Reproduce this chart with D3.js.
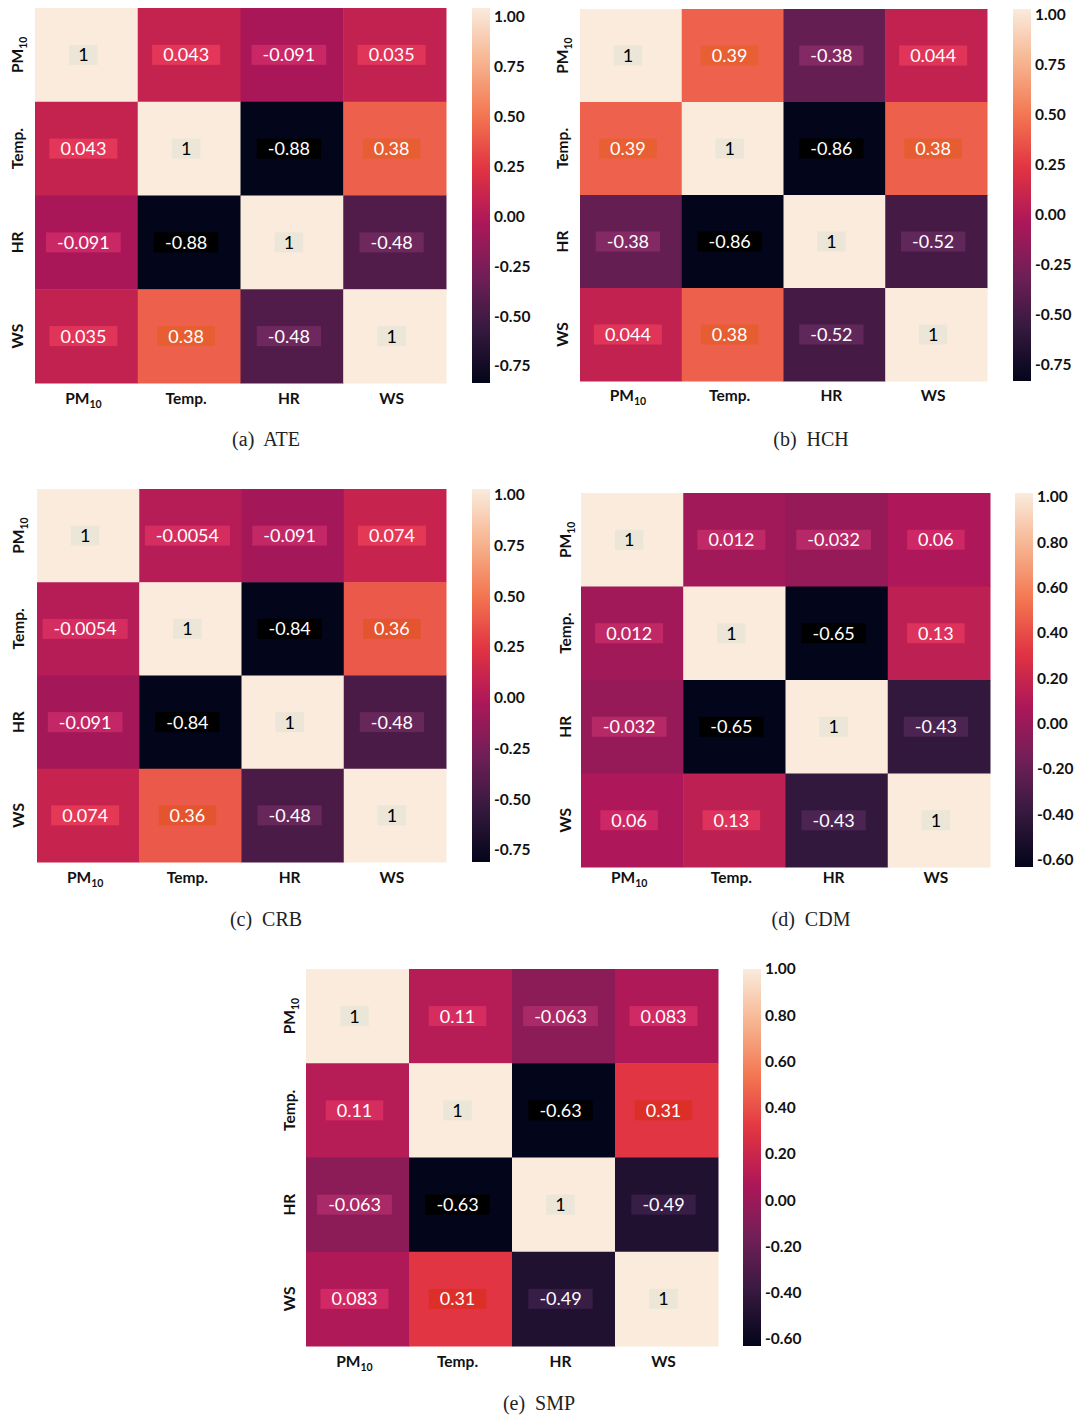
<!DOCTYPE html>
<html>
<head>
<meta charset="utf-8">
<script src="https://cdn.jsdelivr.net/npm/d3@7"></script>
<style>
  html, body { margin: 0; padding: 0; background: #fff; }
  svg { display: block; }
</style>
</head>
<body>
<svg id="fig" width="1077" height="1416"></svg>
<script>
// Variables shown on both axes of every correlation matrix
const variables = ["PM10", "Temp.", "HR", "WS"];

// Pearson correlation matrices, one per station
const ateValues = [
  [1, 0.043, -0.091, 0.035],
  [0.043, 1, -0.88, 0.38],
  [-0.091, -0.88, 1, -0.48],
  [0.035, 0.38, -0.48, 1]
];
const hchValues = [
  [1, 0.39, -0.38, 0.044],
  [0.39, 1, -0.86, 0.38],
  [-0.38, -0.86, 1, -0.52],
  [0.044, 0.38, -0.52, 1]
];
const crbValues = [
  [1, -0.0054, -0.091, 0.074],
  [-0.0054, 1, -0.84, 0.36],
  [-0.091, -0.84, 1, -0.48],
  [0.074, 0.36, -0.48, 1]
];
const cdmValues = [
  [1, 0.012, -0.032, 0.06],
  [0.012, 1, -0.65, 0.13],
  [-0.032, -0.65, 1, -0.43],
  [0.06, 0.13, -0.43, 1]
];
const smpValues = [
  [1, 0.11, -0.063, 0.083],
  [0.11, 1, -0.63, 0.31],
  [-0.063, -0.63, 1, -0.49],
  [0.083, 0.31, -0.49, 1]
];

// Colour bar tick labels
const ticksQuarter = [1.00, 0.75, 0.50, 0.25, 0.00, -0.25, -0.50, -0.75];
const ticksFifth = [1.00, 0.80, 0.60, 0.40, 0.20, 0.00, -0.20, -0.40, -0.60];

// Panel captions
const panelLetters = ["(a)", "(b)", "(c)", "(d)", "(e)"];
const stationNames = ["ATE", "HCH", "CRB", "CDM", "SMP"];

// "rocket" sequential colormap anchor colours
const rocketStops = ["#03051a", "#35193e", "#701f57", "#ad1759", "#e13342", "#f37651", "#f6b48f", "#faebdd"];
const rocket = d3.scaleLinear()
  .domain(d3.range(rocketStops.length).map(i => i / (rocketStops.length - 1)))
  .range(rocketStops)
  .interpolate(d3.interpolateRgb)
  .clamp(true);

// Page layout of each panel: heat map box, colour bar, label offsets
const layout = [
  { x0: 35, x1: 446, y0: 8, y1: 383, cbx: 472, yLab: 18, xLabDy: 16, capY: 439, capX: 266, tickShift: 9 },
  { x0: 580, x1: 987, y0: 9, y1: 381, cbx: 1013, yLab: 563, xLabDy: 15, capY: 439, capX: 811, tickShift: 6 },
  { x0: 37, x1: 446, y0: 489, y1: 862, cbx: 472, yLab: 19, xLabDy: 16, capY: 919, capX: 266, tickShift: 6 },
  { x0: 581, x1: 990, y0: 493, y1: 867, cbx: 1015, yLab: 566, xLabDy: 11, capY: 919, capX: 811, tickShift: 4 },
  { x0: 306, x1: 718, y0: 969, y1: 1346, cbx: 743, yLab: 290, xLabDy: 16, capY: 1403, capX: 539, tickShift: 0 }
];

const matrices = [ateValues, hchValues, crbValues, cdmValues, smpValues];
const tickSets = [ticksQuarter, ticksQuarter, ticksQuarter, ticksFifth, ticksFifth];

const svg = d3.select("#fig");
const defs = svg.append("defs");

const annotFont = "Lato, 'Open Sans', sans-serif";
const tickFont = "Lato, 'Open Sans', sans-serif";
const tickSize = 15.5;
const fmt2 = v => d3.format(".2f")(v).replace("\u2212", "-");

// Highlight box behind each annotation: a more saturated shade of the cell colour
function boxColour(c) {
  const l = d3.lch(c);
  if (l.l > 85) return d3.lch(l.l - 2.5, l.c * 0.8, l.h + 25).formatHex();
  if (l.l < 8) return "#000000";
  const dl = l.l < 50 ? 8 : -2;
  const dh = l.l < 50 ? 4 : 8;
  return d3.lch(l.l + dl, l.c + 6, l.h + dh).formatHex();
}

function textColour(c) {
  const rgb = d3.rgb(c);
  const lin = v => { v /= 255; return v <= 0.03928 ? v / 12.92 : Math.pow((v + 0.055) / 1.055, 2.4); };
  const lum = 0.2126 * lin(rgb.r) + 0.7152 * lin(rgb.g) + 0.0722 * lin(rgb.b);
  return lum > 0.408 ? "#000" : "#fff";
}

function addVarLabel(sel, name, fontSize) {
  if (name === "PM10") {
    sel.append("tspan").text("PM");
    sel.append("tspan").attr("font-size", fontSize * 0.68).attr("dy", fontSize * 0.22).text("10");
  } else {
    sel.text(name);
  }
}

matrices.forEach((values, p) => {
  const L = layout[p];
  const flat = values.flat();
  const vmin = d3.min(flat), vmax = d3.max(flat);
  const colour = v => rocket((v - vmin) / (vmax - vmin));

  const x = d3.scaleBand().domain(variables).range([L.x0, L.x1]);
  const y = d3.scaleBand().domain(variables).range([L.y0, L.y1]);

  const g = svg.append("g").attr("class", "panel");

  const cells = [];
  values.forEach((row, i) => row.forEach((v, j) => cells.push({ r: variables[i], c: variables[j], v })));

  g.selectAll("rect.cell").data(cells).join("rect")
    .attr("class", "cell")
    .attr("x", d => x(d.c))
    .attr("y", d => y(d.r))
    .attr("width", x.bandwidth() + 0.5)
    .attr("height", y.bandwidth() + 0.5)
    .attr("fill", d => colour(d.v));

  // annotations with background boxes
  const ann = g.selectAll("g.ann").data(cells).join("g")
    .attr("class", "ann")
    .attr("transform", d => `translate(${x(d.c) + x.bandwidth() / 2 - 3},${y(d.r) + y.bandwidth() / 2})`);
  ann.append("rect");
  const txt = ann.append("text")
    .attr("text-anchor", "middle")
    .attr("dy", "0.36em")
    .attr("font-family", annotFont)
    .attr("font-size", 18)
    .attr("fill", d => textColour(colour(d.v)))
    .text(d => String(d.v));
  txt.each(function (d) {
    const w = this.getComputedTextLength();
    const pad = d.v === 1 ? 9 : 11;
    d3.select(this.parentNode).select("rect")
      .attr("x", -w / 2 - pad)
      .attr("y", -10)
      .attr("width", w + 2 * pad)
      .attr("height", 20)
      .attr("fill", boxColour(colour(d.v)));
  });

  // x tick labels
  g.selectAll("text.xlab").data(variables).join("text")
    .attr("class", "xlab")
    .attr("x", d => x(d) + x.bandwidth() / 2 - 3)
    .attr("y", L.y1 + L.xLabDy)
    .attr("dy", "0.35em")
    .attr("text-anchor", "middle")
    .attr("font-family", tickFont)
    .attr("font-weight", "bold")
    .attr("font-size", tickSize)
    .attr("fill", "#111")
    .each(function (d) { addVarLabel(d3.select(this), d, tickSize); });

  // y tick labels (rotated)
  g.selectAll("text.ylab").data(variables).join("text")
    .attr("class", "ylab")
    .attr("transform", d => `translate(${L.yLab},${y(d) + y.bandwidth() / 2}) rotate(-90)`)
    .attr("dy", "0.35em")
    .attr("text-anchor", "middle")
    .attr("font-family", tickFont)
    .attr("font-weight", "bold")
    .attr("font-size", tickSize)
    .attr("fill", "#111")
    .each(function (d) { addVarLabel(d3.select(this), d, tickSize); });

  // colour bar
  const gradId = `grad${p}`;
  const grad = defs.append("linearGradient").attr("id", gradId)
    .attr("x1", 0).attr("y1", 1).attr("x2", 0).attr("y2", 0);
  d3.range(0, 1.0001, 0.02).forEach(t => {
    grad.append("stop").attr("offset", t).attr("stop-color", rocket(t));
  });
  const cbScale = d3.scaleLinear().domain([vmin, vmax]).range([L.y1, L.y0]);
  g.append("rect")
    .attr("x", L.cbx).attr("y", L.y0)
    .attr("width", 18).attr("height", L.y1 - L.y0)
    .attr("fill", `url(#${gradId})`);

  g.selectAll("text.cbt").data(tickSets[p]).join("text")
    .attr("class", "cbt")
    .attr("x", L.cbx + 22)
    .attr("y", d => cbScale(d) + L.tickShift)
    .attr("dy", "0.35em")
    .attr("font-family", tickFont)
    .attr("font-weight", "bold")
    .attr("font-size", tickSize)
    .attr("fill", "#111")
    .text(d => fmt2(d));

  // caption
  g.append("text")
    .attr("x", L.capX)
    .attr("y", L.capY)
    .attr("dy", "0.35em")
    .attr("text-anchor", "middle")
    .attr("font-family", "'Liberation Serif', 'Times New Roman', serif")
    .attr("font-size", 20)
    .attr("fill", "#222")
    .style("white-space", "pre")
    .text(`${panelLetters[p]}  ${stationNames[p]}`);
});
</script>
</body>
</html>
